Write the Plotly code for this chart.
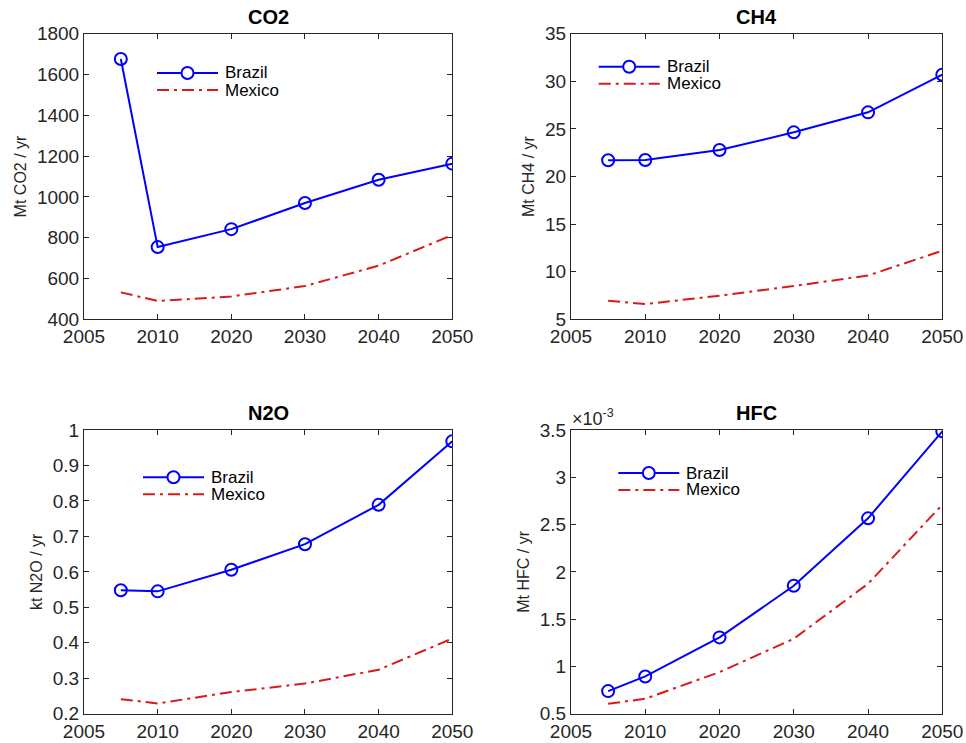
import numpy as np
import plotly.graph_objects as go

# Scenario years and the tick labels shown on the x axis
years = [2005, 2010, 2020, 2030, 2040, 2050]
tick_positions = [2000, 2010, 2020, 2030, 2040, 2050]
tick_labels = ["2005", "2010", "2020", "2030", "2040", "2050"]

# Emissions per gas
co2_brazil = [1676, 754, 842, 970, 1084, 1163]
co2_mexico = [532, 490, 512, 563, 663, 813]

ch4_brazil = [21.7, 21.73, 22.78, 24.64, 26.74, 30.69]
ch4_mexico = [6.95, 6.6, 7.48, 8.5, 9.6, 12.2]

n2o_brazil = [0.548, 0.545, 0.606, 0.678, 0.789, 0.968]
n2o_mexico = [0.241, 0.229, 0.261, 0.285, 0.324, 0.412]

hfc_brazil = [0.739e-3, 0.894e-3, 1.307e-3, 1.853e-3, 2.566e-3, 3.486e-3]
hfc_mexico = [0.605e-3, 0.658e-3, 0.94e-3, 1.293e-3, 1.874e-3, 2.71e-3]

W, H = 966, 743
FONT = "Liberation Sans, Arial, Helvetica, sans-serif"
INK = "#262626"
BLUE = "#0000FF"
RED = "#DA1A1A"
DASHDOT = "12px,5px,3px,5px"

# panel boxes in pixels: left, right, top, bottom; legend text anchor (x, first row y)
panels = [
    dict(name="CO2", ylabel="Mt CO2 / yr", b=co2_brazil, m=co2_mexico, scale=1,
         yr=[400, 1800], dt=200, box=(84, 452.3, 33.7, 319.3), leg=(224, 73)),
    dict(name="CH4", ylabel="Mt CH4 / yr", b=ch4_brazil, m=ch4_mexico, scale=1,
         yr=[5, 35], dt=5, box=(571, 942.3, 33.7, 319.3), leg=(665.7, 66.7)),
    dict(name="N2O", ylabel="kt N2O / yr", b=n2o_brazil, m=n2o_mexico, scale=1,
         yr=[0.2, 1.0], dt=0.1, box=(84, 452.3, 430, 713.7), leg=(210, 477.3)),
    dict(name="HFC", ylabel="Mt HFC / yr", b=hfc_brazil, m=hfc_mexico, scale=1e3,
         yr=[0.5, 3.5], dt=0.5, box=(571, 942.3, 430, 713.7), leg=(685.3, 473)),
]
ROW_GAP = 17


def px(x):
    return x / W


def py(y):
    return 1 - y / H


fig = go.Figure()
layout = dict(
    width=W, height=H,
    margin=dict(l=0, r=0, t=0, b=0, autoexpand=False),
    paper_bgcolor="white", plot_bgcolor="white",
    font=dict(family=FONT, color=INK),
    showlegend=False,
    annotations=[], shapes=[],
)

for i, p in enumerate(panels, start=1):
    l, r, t, b = p["box"]
    sx = "" if i == 1 else str(i)
    xa, ya = f"x{sx}", f"y{sx}"

    fig.add_trace(go.Scatter(
        x=years, y=np.array(p["b"]) * p["scale"], name="Brazil",
        mode="lines+markers", xaxis=xa, yaxis=ya,
        line=dict(color=BLUE, width=2),
        marker=dict(symbol="circle-open", size=12, color=BLUE,
                    line=dict(width=2, color=BLUE)),
    ))
    fig.add_trace(go.Scatter(
        x=years, y=np.array(p["m"]) * p["scale"], name="Mexico",
        mode="lines", xaxis=xa, yaxis=ya,
        line=dict(color=RED, width=2, dash=DASHDOT),
    ))

    axis_common = dict(
        showline=True, linecolor=INK, linewidth=1, mirror="ticks",
        ticks="inside", ticklen=5, tickwidth=1, tickcolor=INK,
        showgrid=False, zeroline=False, automargin=False,
        tickfont=dict(family=FONT, size=19, color=INK),
    )
    layout[f"xaxis{sx}"] = dict(
        axis_common, domain=[px(l), px(r)], range=[2000, 2050],
        tickvals=tick_positions, ticktext=tick_labels, anchor=ya,
    )
    layout[f"yaxis{sx}"] = dict(
        axis_common, domain=[py(b), py(t)], range=p["yr"],
        tick0=p["yr"][0], dtick=p["dt"], anchor=xa,
        title=dict(text=p["ylabel"], font=dict(family=FONT, size=16, color=INK),
                   standoff=6),
    )

    # panel title
    layout["annotations"].append(dict(
        text=f"<b>{p['name']}</b>", xref="paper", yref="paper",
        x=px((l + r) / 2), y=py(t - 4), xanchor="center", yanchor="bottom",
        showarrow=False, font=dict(family=FONT, size=20, color="black"),
    ))

    # legend box (no frame): sample line + text for each series
    lx, ly = p["leg"]
    x0, x1 = lx - 67, lx - 6
    xm = (x0 + x1) / 2
    rows = [("Brazil", BLUE, "solid", True), ("Mexico", RED, DASHDOT, False)]
    for k, (label, color, dash, marker) in enumerate(rows):
        yy = ly + k * ROW_GAP
        layout["shapes"].append(dict(
            type="line", xref="paper", yref="paper",
            x0=px(x0), x1=px(x1), y0=py(yy), y1=py(yy),
            line=dict(color=color, width=2, dash=dash),
        ))
        if marker:
            layout["shapes"].append(dict(
                type="circle", xref="paper", yref="paper",
                x0=px(xm - 6), x1=px(xm + 6), y0=py(yy + 6), y1=py(yy - 6),
                line=dict(color=color, width=2), fillcolor="white",
            ))
        layout["annotations"].append(dict(
            text=label, xref="paper", yref="paper",
            x=px(lx - 1), y=py(yy), xanchor="left", yanchor="middle",
            showarrow=False, font=dict(family=FONT, size=17, color="black"),
        ))

# exponent label for the HFC axis
layout["annotations"].append(dict(
    text="×10<sup>-3</sup>", xref="paper", yref="paper",
    x=px(570), y=py(431), xanchor="left", yanchor="bottom",
    showarrow=False, font=dict(family=FONT, size=18, color=INK),
))

fig.update_layout(**layout)
fig.write_html("out.html")
